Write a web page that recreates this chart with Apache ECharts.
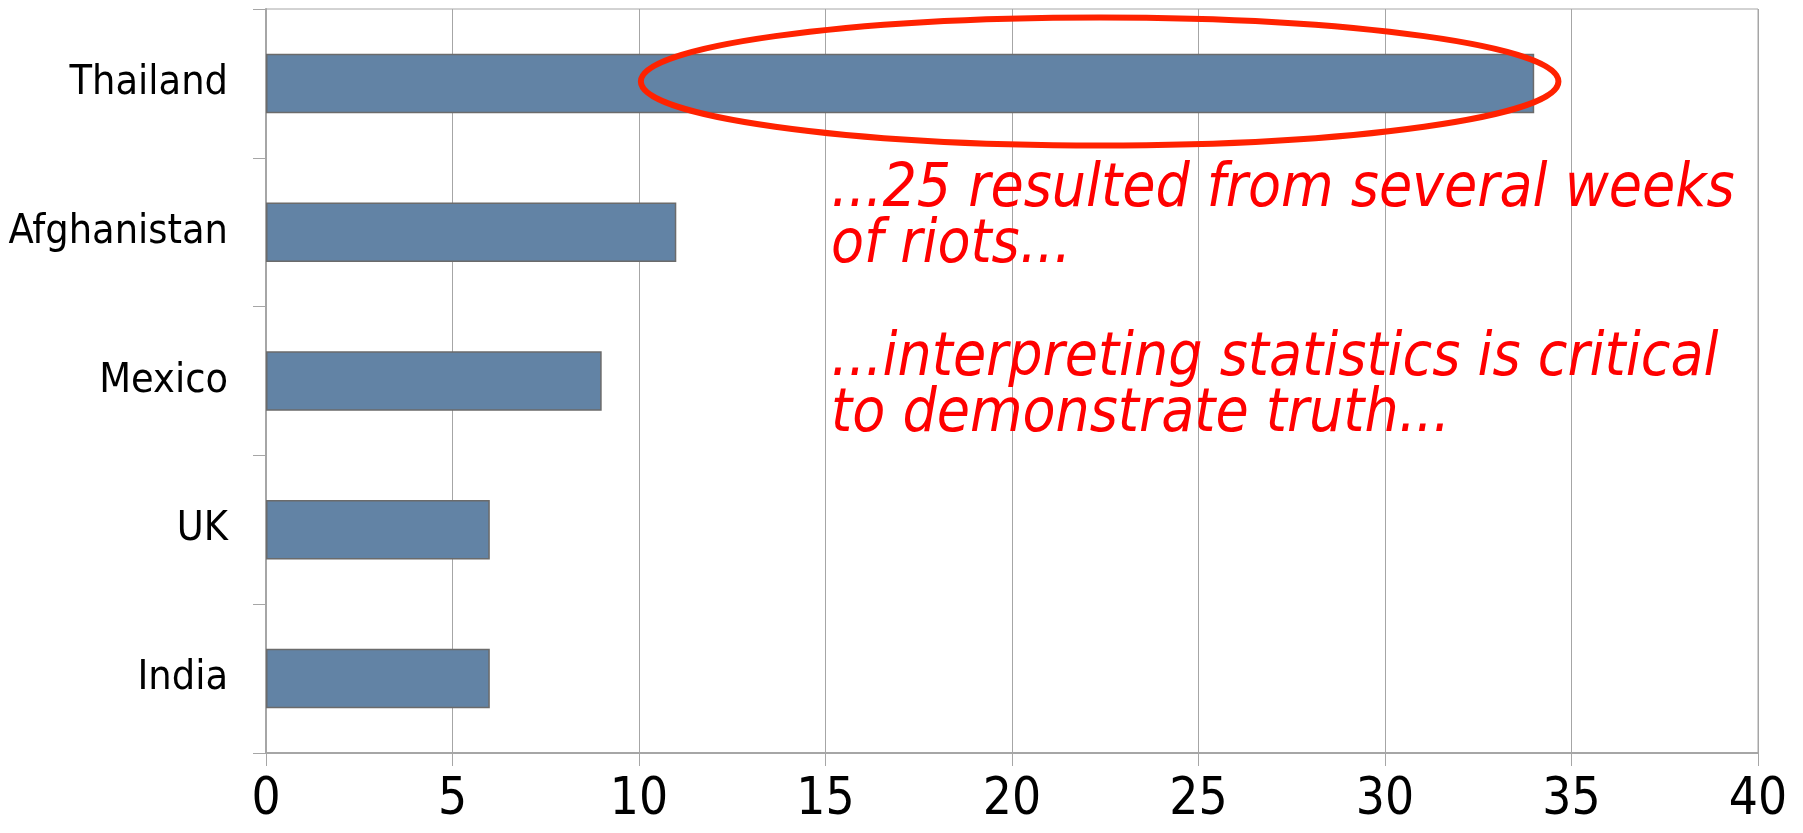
<!DOCTYPE html>
<html>
<head>
<meta charset="utf-8">
<script src="https://cdn.jsdelivr.net/npm/echarts@6/dist/echarts.min.js"></script>
<style>
  html, body { margin: 0; padding: 0; background: #fff; }
  #chart { width: 1803px; height: 833px; }
</style>
</head>
<body>
<div id="chart"></div>
<script>
// 数据
var countries = ['Thailand', 'Afghanistan', 'Mexico', 'UK', 'India'];
var counts = [34, 11, 9, 6, 6];
var xTicks = [0, 5, 10, 15, 20, 25, 30, 35, 40];

// 注释文字
var note1 = ['...25 resulted from several weeks', 'of riots...'];
var note2 = ['...interpreting statistics is critical', 'to demonstrate truth...'];

var gridColor = '#a6a6a6';
var labelFont = "'DejaVu Sans Condensed', 'DejaVu Sans', sans-serif";
var noteFont = "'DejaVu Sans Condensed', 'DejaVu Sans', sans-serif";

var chart = echarts.init(document.getElementById('chart'));

var option = {
    animation: false,
    grid: {
        left: 266,
        right: 45,
        top: 9,
        bottom: 80,
        containLabel: false,
        outerBoundsMode: 'none',
        show: true,
        borderColor: gridColor,
        borderWidth: 1
    },
    xAxis: {
        type: 'value',
        min: xTicks[0],
        max: xTicks[xTicks.length - 1],
        interval: 5,
        axisLine: { show: true, lineStyle: { color: gridColor, width: 2 } },
        axisTick: { show: true, length: 13, lineStyle: { color: gridColor, width: 1 } },
        splitLine: { show: true, lineStyle: { color: gridColor, width: 1 } },
        axisLabel: {
            margin: 22,
            color: '#000',
            fontSize: 51,
            fontFamily: labelFont
        }
    },
    yAxis: {
        type: 'category',
        inverse: true,
        data: countries,
        axisLine: { show: true, lineStyle: { color: gridColor, width: 2 } },
        axisTick: { show: true, length: 13, lineStyle: { color: gridColor, width: 1 } },
        splitLine: { show: false },
        axisLabel: {
            margin: 38,
            color: '#000',
            fontSize: 41,
            fontFamily: labelFont
        }
    },
    series: [
        {
            type: 'bar',
            data: counts,
            barWidth: '40%',
            itemStyle: {
                color: '#6283a5',
                borderColor: '#6b6b6b',
                borderWidth: 1.5
            }
        }
    ]
};

chart.setOption(option);

// 椭圆和注释 (按数据坐标定位)
function drawNotes() {
    var c = chart.convertToPixel({ gridIndex: 0 }, [22.35, 0]);
    var l = chart.convertToPixel({ gridIndex: 0 }, [10.05, 0]);
    var t1 = chart.convertToPixel({ gridIndex: 0 }, [15.15, 0]);
    var noteStyle = {
        fill: '#ff0000',
        font: 'italic 60px ' + noteFont,
        lineHeight: 56
    };
    chart.setOption({
        graphic: [
            {
                type: 'ellipse',
                shape: { cx: c[0], cy: c[1] - 2, rx: c[0] - l[0], ry: 64 },
                style: { fill: 'none', stroke: '#ff2200', lineWidth: 6 },
                z: 100
            },
            {
                type: 'text',
                x: t1[0],
                y: 162,
                style: Object.assign({ text: note1.join('\n') }, noteStyle),
                z: 100
            },
            {
                type: 'text',
                x: t1[0],
                y: 331,
                style: Object.assign({ text: note2.join('\n') }, noteStyle),
                z: 100
            }
        ]
    });
}
drawNotes();

window.addEventListener('resize', function () {
    chart.resize();
    drawNotes();
});
</script>
</body>
</html>
